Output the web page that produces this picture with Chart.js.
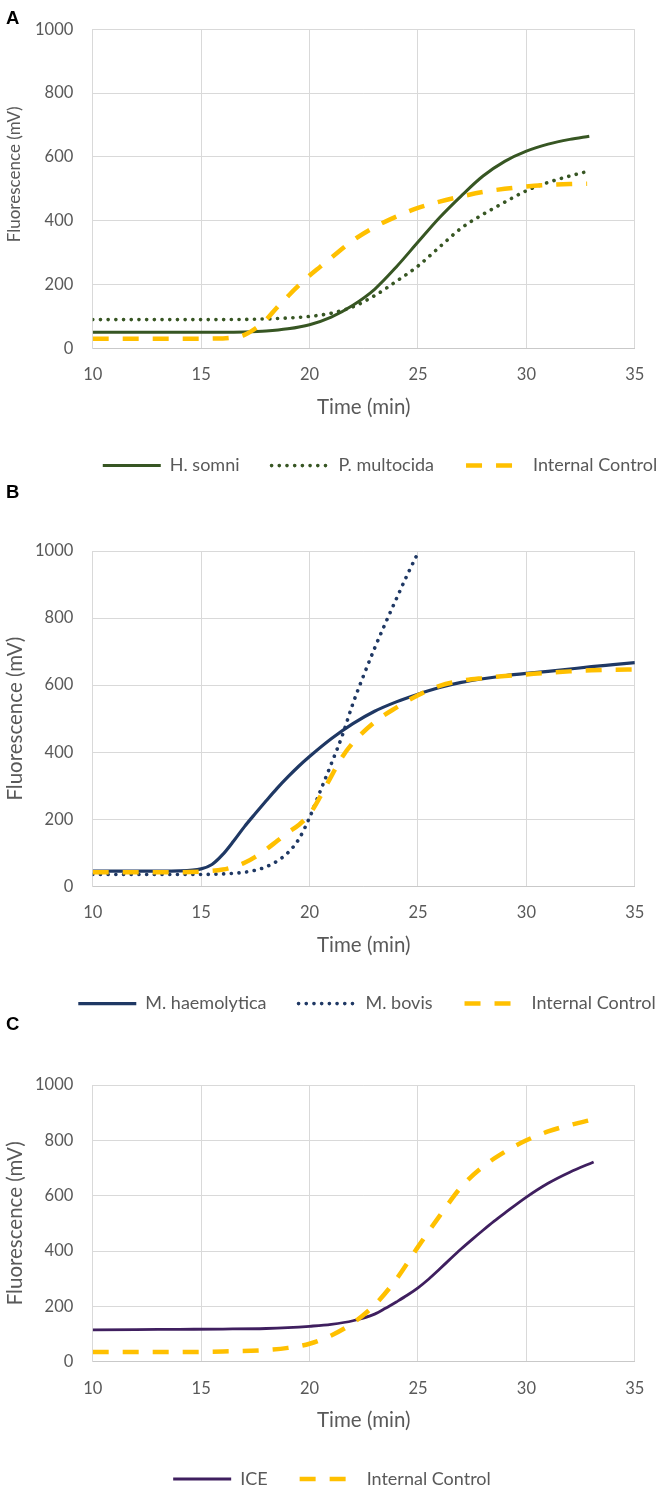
<!DOCTYPE html>
<html><head><meta charset="utf-8">
<script src="https://cdn.jsdelivr.net/npm/chart.js@4.4.1/dist/chart.umd.min.js"></script>
<style>
html,body{margin:0;padding:0;background:#fff;overflow:hidden;}
#wrap{position:relative;width:661px;height:1489px;overflow:hidden;background:#fff;}
canvas{position:absolute;left:0;}
.lbl{position:absolute;left:6px;font:bold 18.5px "Liberation Sans",Arial,sans-serif;line-height:1;color:#000;z-index:2;}
</style></head><body>
<div id="wrap">
<canvas id="cA" width="661" height="485" style="top:0px"></canvas>
<canvas id="cB" width="661" height="538" style="top:485px"></canvas>
<canvas id="cC" width="661" height="475" style="top:1023px"></canvas>
<div class="lbl" style="top:9px">A</div>
<div class="lbl" style="top:483px">B</div>
<div class="lbl" style="top:1015px">C</div>
</div>
<script>
// ---- Data (time in min, fluorescence in mV) ----
const xTicks = [10, 15, 20, 25, 30, 35];
const yTicks = [0, 200, 400, 600, 800, 1000];

// Panel A
const tA_hsomni = [10, 12, 14, 16, 17, 18, 19, 20, 21, 22, 23, 24, 25, 26, 27, 28, 29, 30, 31, 32, 32.9];
const vA_hsomni = [50, 50, 50, 50, 51, 54, 61, 74, 98, 135, 185, 255, 333, 410, 478, 540, 586, 618, 640, 655, 665];
const tA_pmult = [10, 12, 14, 16, 18, 19, 20, 21, 22, 23, 24, 25, 26, 27, 28, 29, 30, 31, 32, 32.9];
const vA_pmult = [90, 90, 90, 90, 92, 95, 100, 110, 130, 165, 210, 258, 318, 377, 420, 458, 494, 520, 540, 556];
const tA_ic = [10, 12, 14, 16, 16.5, 17, 17.5, 18, 18.5, 19, 19.5, 20, 20.5, 21, 22, 23, 24, 25, 26, 27, 28, 29, 30, 31, 32, 32.8];
const vA_ic = [30, 30, 30, 31, 34, 42, 62, 90, 128, 163, 197, 228, 256, 284, 338, 380, 413, 440, 460, 476, 490, 500, 507, 512, 515, 516];

// Panel B
const tB_mhaem = [10, 12, 14, 15, 15.5, 16, 16.5, 17, 17.5, 18, 18.5, 19, 19.5, 20, 21, 22, 23, 24, 25, 26, 27, 28, 29, 30, 31, 32, 33, 34, 35];
const vB_mhaem = [45, 45, 46, 52, 65, 95, 135, 178, 217, 255, 292, 326, 358, 387, 440, 485, 522, 550, 573, 593, 608, 619, 628, 635, 641, 648, 655, 661, 667];
const tB_mbovis = [10, 12, 14, 16, 17, 17.5, 18, 18.5, 19, 19.5, 20, 20.5, 21, 21.5, 22, 22.5, 23, 23.5, 24, 24.5, 25.04];
const vB_mbovis = [35, 35, 35, 37, 42, 48, 58, 75, 100, 140, 205, 285, 365, 448, 545, 630, 710, 785, 857, 928, 1000];
const tB_ic = [10, 12, 14, 15, 16, 16.5, 17, 17.5, 18, 18.5, 19, 19.5, 20, 20.5, 21, 21.5, 22, 23, 24, 25, 26, 27, 28, 29, 30, 31, 32, 33, 34, 35];
const vB_ic = [42, 42, 42, 44, 50, 58, 70, 88, 110, 135, 160, 183, 215, 268, 328, 385, 428, 490, 533, 570, 598, 613, 621, 627, 632, 637, 641, 644, 646, 647];

// Panel C
const tC_ice = [10, 12, 14, 16, 18, 19, 20, 21, 22, 23, 23.5, 24, 24.5, 25, 25.5, 26, 26.5, 27, 27.5, 28, 28.5, 29, 30, 31, 32, 33.1];
const vC_ice = [115, 116, 117, 118, 120, 123, 128, 135, 148, 172, 193, 216, 240, 267, 299, 335, 372, 408, 442, 475, 507, 537, 595, 645, 685, 722];
const tC_ic = [10, 12, 14, 16, 18, 19, 20, 21, 22, 23, 24, 25, 26, 27, 28, 29, 30, 31, 32, 33.05];
const vC_ic = [35, 35, 35, 37, 42, 50, 65, 95, 140, 205, 298, 415, 527, 632, 705, 758, 800, 832, 855, 875];

// ---- Styles ----
Chart.defaults.font.family = 'Lato, "Open Sans", sans-serif';
Chart.defaults.color = '#595959';
const GREEN = '#375623', NAVY = '#1F3864', PURPLE = '#3F1F5F', GOLD = '#FFC000';

function pts(ts, vs) { return ts.map((t, i) => ({ x: t, y: vs[i] })); }
function solid(label, ts, vs, color, order, w) {
  return { label, data: pts(ts, vs), borderColor: color, backgroundColor: color, borderWidth: w || 3,
    borderDash: [], borderCapStyle: 'butt', pointRadius: 0, fill: false, cubicInterpolationMode: 'monotone', order };
}
function dotted(label, ts, vs, color, order) {
  return { label, data: pts(ts, vs), borderColor: color, backgroundColor: color, borderWidth: 3.6,
    borderDash: [0.1, 7.6], borderCapStyle: 'round', pointRadius: 0, fill: false,
    cubicInterpolationMode: 'monotone', order };
}
function dashed(label, ts, vs, color, order) {
  return { label, data: pts(ts, vs), borderColor: color, backgroundColor: color, borderWidth: 4.5,
    borderDash: [16, 14], borderCapStyle: 'butt', pointRadius: 0, fill: false,
    cubicInterpolationMode: 'monotone', order };
}

const legendShift = {
  id: 'legendShift',
  afterLayout(chart, args, opts) {
    const lg = chart.legend;
    if (lg) {
      const dx = opts.center - (lg.left + lg.right) / 2;
      lg.left += dx; lg.right += dx;
    }
    // optional vertical offset of the y-axis title
    const ys = chart.scales.y;
    if (ys && opts.yTitleShift && !ys._shifted) {
      const orig = ys.drawTitle;
      ys.drawTitle = function () {
        const ctx = this.ctx;
        ctx.save(); ctx.translate(0, opts.yTitleShift); orig.call(this); ctx.restore();
      };
      ys._shifted = true;
    }
  }
};

function legendLabels(chart) {
  return chart.data.datasets.map((ds, i) => ({
    text: ds.label, datasetIndex: i, hidden: false,
    fillStyle: 'rgba(0,0,0,0)', strokeStyle: ds.borderColor, lineWidth: ds.borderWidth,
    lineDash: ds.borderDash, lineCap: ds.borderCapStyle, lineDashOffset: 0,
    pointStyle: 'line', fontColor: '#595959'
  }));
}

function makeChart(id, datasets, o) {
  return new Chart(document.getElementById(id), {
    type: 'line',
    data: { datasets },
    plugins: [legendShift],
    options: {
      responsive: false, animation: false, devicePixelRatio: 1, events: [],
      layout: { padding: { left: 0, right: 12.7, top: o.padTop, bottom: o.padBottom } },
      scales: {
        x: {
          type: 'linear', min: xTicks[0], max: xTicks[xTicks.length - 1],
          afterBuildTicks: s => { s.ticks = xTicks.map(v => ({ value: v })); },
          afterFit: s => { s.height = 76.3; },
          ticks: { padding: 16.6, font: { size: 16.5 }, color: '#595959', callback: v => String(v) },
          grid: { color: '#d9d9d9', lineWidth: 1, drawTicks: false },
          border: { color: '#c9c9c9', width: 1 },
          title: { display: true, text: 'Time (min)', font: { size: 20.5 }, color: '#595959', padding: { top: 0, bottom: 5 } }
        },
        y: {
          min: yTicks[0], max: yTicks[yTicks.length - 1],
          afterBuildTicks: s => { s.ticks = yTicks.map(v => ({ value: v })); },
          afterFit: s => { s.width = 92.7; },
          ticks: { padding: 19.4, font: { size: 16.5 }, color: '#595959', callback: v => String(v) },
          grid: { color: '#d9d9d9', lineWidth: 1, drawTicks: false },
          border: { color: '#d9d9d9', width: 1 },
          title: { display: true, text: 'Fluorescence (mV)', font: { size: o.yTitleSize }, color: '#595959',
                   padding: { top: o.yTitlePad, bottom: 0 } }
        }
      },
      plugins: {
        tooltip: { enabled: false },
        legendShift: { center: o.legendCenter, yTitleShift: o.yTitleShift || 0 },
        legend: {
          position: 'bottom',
          labels: {
            usePointStyle: true, pointStyle: 'line', pointStyleWidth: 58, boxHeight: 18,
            padding: 32, font: { size: 18 }, color: '#595959',
            generateLabels: legendLabels
          }
        }
      }
    }
  });
}

makeChart('cA', [
  solid('H. somni', tA_hsomni, vA_hsomni, GREEN, 2, 3),
  dotted('P. multocida', tA_pmult, vA_pmult, GREEN, 1),
  dashed('Internal Control', tA_ic, vA_ic, GOLD, 0)
], { padTop: 12.7, padBottom: 0.4, legendCenter: 380, yTitleSize: 17, yTitlePad: 4.8, yTitleShift: -14.5 });

makeChart('cB', [
  solid('M. haemolytica', tB_mhaem, vB_mhaem, NAVY, 2, 3.2),
  dotted('M. bovis', tB_mbovis, vB_mbovis, NAVY, 1),
  dashed('Internal Control', tB_ic, vB_ic, GOLD, 0)
], { padTop: 66, padBottom: 0.4, legendCenter: 367, yTitleSize: 20.5, yTitlePad: 2.7 });

makeChart('cC', [
  solid('ICE', tC_ice, vC_ice, PURPLE, 1, 2.8),
  dashed('Internal Control', tC_ic, vC_ic, GOLD, 0)
], { padTop: 62, padBottom: 0, legendCenter: 332, yTitleSize: 20.5, yTitlePad: 2.7 });
</script>
</body></html>
